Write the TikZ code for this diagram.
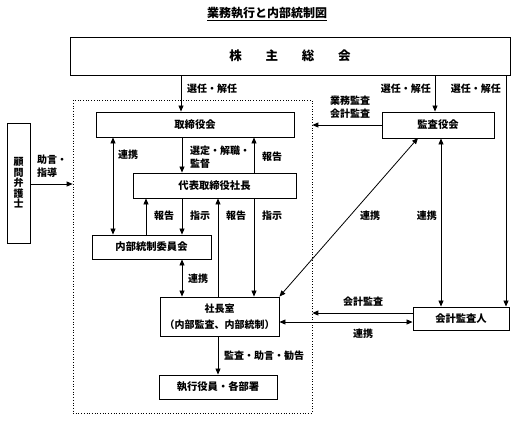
\documentclass[tikz,border=0pt]{standalone}
\usepackage{fontspec}
\setmainfont{Noto Sans CJK JP}
\usetikzlibrary{arrows.meta}
\begin{document}
\begin{tikzpicture}[x=1pt,y=-1pt,
  box/.style={draw,line width=0.9pt,inner sep=0pt,font=\fontsize{10.3}{12}\selectfont\bfseries},
  arr/.style={line width=0.8pt,-{Triangle[length=6pt,width=5pt]}},
  darr/.style={line width=0.8pt,{Triangle[length=6pt,width=5pt]}-{Triangle[length=6pt,width=5pt]}},
  lbl/.style={font=\fontsize{10}{13}\selectfont\bfseries,inner sep=0pt}]
\useasboundingbox (0,0) rectangle (530,421);
% title
\node[font=\fontsize{12}{14}\selectfont\bfseries] (title) at (267,14) {\underline{業務執行と内部統制図}};
% frame
\node[draw,dotted,line width=0.7pt,minimum width=239pt,minimum height=313pt,inner sep=0pt] (frame) at (192.5,256.5) {};
% boxes
\node[box,minimum width=440pt,minimum height=38pt,font=\fontsize{12.5}{14}\selectfont\bfseries] (kabu) at (290,56) {株\hspace{1.9em}主\hspace{1.9em}総\hspace{1.9em}会};
\node[box,minimum width=198pt,minimum height=25pt] (tori) at (195,124.5) {取締役会};
\node[box,minimum width=112pt,minimum height=26pt] (kansa) at (438,125) {監査役会};
\node[box,minimum width=23pt,minimum height=120pt,align=center,font=\fontsize{10}{10.5}\selectfont\bfseries] (komon) at (18.5,183) {顧\\問\\弁\\護\\士};
\node[box,minimum width=163pt,minimum height=25pt] (daihyo) at (214.5,185.5) {代表取締役社長};
\node[box,minimum width=119pt,minimum height=24pt] (naibu) at (151.5,247) {内部統制委員会};
\node[box,minimum width=119pt,minimum height=39pt,align=center,font=\fontsize{10}{16.5}\selectfont\bfseries] (shacho) at (219.5,316.5) {社長室\\（内部監査、内部統制）};
\node[box,minimum width=96pt,minimum height=23pt] (kaikei) at (461,318.5) {会計監査人};
\node[box,minimum width=118pt,minimum height=24pt] (shikko) at (218,387) {執行役員・各部署};
% connectors
\draw[arr] (kabu.south -| 181,0) -- (tori.north -| 181,0);
\node[lbl,anchor=west] (l1) at (187,89) {選任・解任};
\draw[arr] (kabu.south -| 435,0) -- (kansa.north -| 435,0);
\node[lbl,anchor=east] (l2) at (431,89) {選任・解任};
\draw[arr] (kabu.south -| 506,0) -- (kaikei.north -| 506,0);
\node[lbl,anchor=east] (l3) at (501,89) {選任・解任};
\draw[arr] (kansa.west) -- (frame.east |- kansa.west);
\node[lbl,align=center] (l4) at (350,107.5) {業務監査\\会計監査};
\draw[arr] (komon.east |- 0,184) -- (frame.west |- 0,184);
\node[lbl,align=left,anchor=west] (l5) at (37,166.5) {助言・\\指導};
\draw[darr] (tori.south -| 113,0) -- (naibu.north -| 113,0);
\node[lbl,anchor=west] (l6) at (118,155) {連携};
\draw[arr] (tori.south -| 182,0) -- (daihyo.north -| 182,0);
\node[lbl,align=left,anchor=west] (l7) at (190,157) {選定・解職・\\監督};
\draw[arr] (daihyo.north -| 254,0) -- (tori.south -| 254,0);
\node[lbl,anchor=west] (l8) at (262,157) {報告};
\draw[arr] (naibu.north -| 146,0) -- (daihyo.south -| 146,0);
\node[lbl,anchor=west] (l9) at (154,216) {報告};
\draw[arr] (daihyo.south -| 182,0) -- (naibu.north -| 182,0);
\node[lbl,anchor=west] (l10) at (190,216) {指示};
\draw[arr] (shacho.north -| 218,0) -- (daihyo.south -| 218,0);
\node[lbl,anchor=west] (l11) at (226,216) {報告};
\draw[arr] (daihyo.south -| 254,0) -- (shacho.north -| 254,0);
\node[lbl,anchor=west] (l12) at (262,216) {指示};
\draw[darr] (naibu.south -| 182,0) -- (shacho.north -| 182,0);
\node[lbl,anchor=west] (l13) at (188,279) {連携};
\draw[darr] (shacho.north east) -- (418,138);
\node[lbl] (l14) at (370,216) {連携};
\draw[darr] (kansa.south -| 441,0) -- (kaikei.north -| 441,0);
\node[lbl,anchor=east] (l15) at (437,216) {連携};
\draw[arr] (kaikei.west |- 0,313) -- (frame.east |- 0,313);
\node[lbl] (l16) at (363,302) {会計監査};
\draw[darr] (shacho.east |- 0,322) -- (kaikei.west |- 0,322);
\node[lbl] (l17) at (363,334) {連携};
\draw[arr] (shacho.south -| 218,0) -- (shikko.north -| 218,0);
\node[lbl,anchor=west] (l18) at (224,356) {監査・助言・勧告};
\end{tikzpicture}
\end{document}
